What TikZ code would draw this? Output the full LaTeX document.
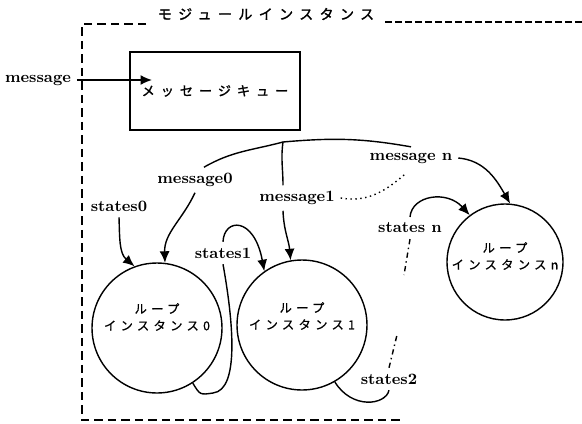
\documentclass[tikz,border=0pt]{standalone}
\usepackage{fontspec}
\usepackage{tikz}
\usetikzlibrary{arrows.meta}
\newfontfamily\jpfont[LetterSpace=35,FakeBold=0.6]{Noto Sans CJK JP}
\newfontfamily\jpbold[LetterSpace=45,FakeBold=1.5]{Noto Sans CJK JP}

\begin{document}
\begin{tikzpicture}[x=0.02cm,y=-0.02cm,>={Latex[length=2.3mm,width=2mm]},thick,
  lbl/.style={font=\bfseries\fontsize{9}{10}\selectfont,inner sep=3pt},
  jp/.style={font=\jpfont\fontsize{7}{9.6}\selectfont,align=center,inner sep=0pt},
  loopc/.style={draw,circle,inner sep=0pt,minimum size=2.6cm},
  frame/.style={very thick,dash pattern=on 0.17cm off 0.1cm}]
\useasboundingbox (0,0) rectangle (582,423);

% module instance frame
\node[font=\jpbold\fontsize{8}{10}\selectfont] (MI) at (266,14) {モジュールインスタンス};
\draw[frame] (146,24) -- (82,24) -- (82,420) -- (400,420);
\draw[thick,dash pattern=on 0.14cm off 0.06cm] (385,22) -- (582,22);

% message queue
\node[draw,thick,minimum width=3.4cm,minimum height=1.56cm,
      font=\jpbold\fontsize{7.5}{9}\selectfont] (Q) at (215,91) {メッセージキュー};
\node[lbl] (M) at (38,80) {message};
\coordinate (Qin) at (152,80);
\draw[->] (M) -- (Qin);

% loop instances
\node[loopc] (L0) at (157,328) {};
\node[loopc] (L1) at (302,325) {};
\node[loopc,minimum size=2.32cm] (Ln) at (505,262) {};
\node[jp] (T0) at (157,317) {ループ\\インスタンス0};
\node[jp] (T1) at (302,316) {ループ\\インスタンス1};
\node[jp] (Tn) at (505,256) {ループ\\インスタンスn};

% labels
\coordinate (S) at (283,142);
\node[lbl] (m0) at (195,180) {message0};
\node[lbl] (m1) at (297,198) {message1};
\node[lbl] (mn) at (411,158) {message n};
\node[lbl] (s0) at (119,206) {states0};
\node[lbl] (s1) at (223,253) {states1};
\node[lbl] (s2) at (389,379) {states2};
\node[lbl] (sn) at (410,228) {states n};
\coordinate (s2top) at (397,335);
\coordinate (snend) at (404,275);

% messages
\draw (S) to[out=195,in=30] (m0.55);
\draw[->] (m0.south) to[out=245,in=92] (L0.83);
\draw (S) to[out=262,in=90] (m1.north -| S);
\draw[->] (m1.south -| S) to[out=272,in=95] (L1.100);
\draw (S) to[out=5,in=170] (mn.north);
\draw[->] (mn.east) to[out=-5,in=120] (Ln.85);
\draw[dotted,shorten >=0.15cm] (m1.east) to[out=-10,in=220] (mn.south);

% states
\draw[->] (s0.south) to[out=272,in=140] (L0.110);
\draw[->] (s1.north) .. controls (224,218) and (254,216) .. (L1.125);
\draw (s1.south) .. controls (233,320) and (240,390) .. (213,393)
  .. controls (200,395) .. (L0.-57);
\draw[dashdotted] (s2.north) -- (s2top);
\draw (s2.south) .. controls (386,405) and (352,410) .. (L1.-60);
\draw[dashdotted] (sn.south) -- (snend);
\draw[->] (sn.north) .. controls (412,195) and (447,190) .. (Ln.127);
\end{tikzpicture}
\end{document}
